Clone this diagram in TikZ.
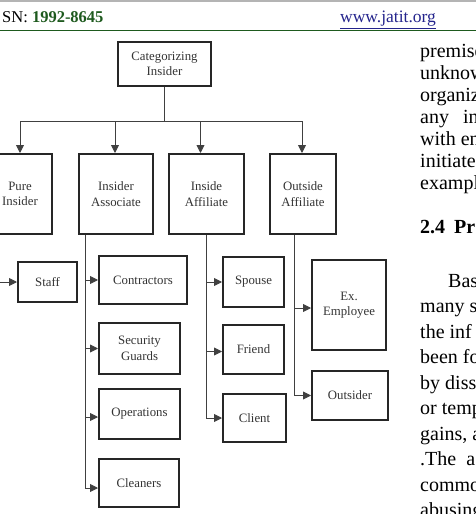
\documentclass[tikz,border=0pt]{standalone}
\usepackage{fontspec}
\setmainfont{Liberation Serif}
\usepackage{xcolor}
\usetikzlibrary{arrows.meta}
\definecolor{hdrgreen}{HTML}{1E5A1E}
\definecolor{hdrblue}{HTML}{24248C}
\definecolor{rulegray}{HTML}{B4B4B4}

\begin{document}
\begin{tikzpicture}[
        x=1pt, y=-1pt,
        >=Triangle,
        box/.style={
            draw=black!85,
            line width=2pt,
            align=center,
            inner sep=1pt,
            text=black!80,
            font=\fontsize{12.8}{15.5}\selectfont
        },
        flow/.style={-{Triangle[length=8pt,width=8pt]}, line width=0.9pt, draw=black!75},
        trunk/.style={line width=0.9pt, draw=black!75},
        body/.style={anchor=base west, inner sep=0pt, font=\fontsize{20}{25}\selectfont}
    ]
        \useasboundingbox (0,0) rectangle (476,514);
        \clip (0,0) rectangle (476,514);

        % page header
        \draw[rulegray, line width=2pt] (0,0.5) -- (476,0.5);
        \node[anchor=base west, inner sep=0pt, font=\fontsize{16.5}{18}\selectfont] (issn) at (2,23)
            {SN: \textbf{\color{hdrgreen}1992-8645}};
        \node[anchor=base west, inner sep=0pt, text=hdrblue, font=\fontsize{17.5}{18}\selectfont] (site) at (340,23)
            {\underline{www.jatit.org}};
        \draw[hdrgreen, line width=0.8pt] (0,30) -- (476,30);

        % tree
        \node[box, minimum width=93, minimum height=44] (root) at (164.5,64) {Categorizing\\Insider};

        \node[box, minimum width=64, minimum height=80] (pure) at (20,194) {Pure\\Insider};
        \node[box, minimum width=74, minimum height=80] (assoc) at (116,194) {Insider\\Associate};
        \node[box, minimum width=75, minimum height=80] (inaff) at (206.5,194) {Inside\\Affiliate};
        \node[box, minimum width=66, minimum height=80] (outaff) at (303,194) {Outside\\Affiliate};

        \node[box, minimum width=59, minimum height=40] (staff) at (47.5,282) {Staff};

        \node[box, minimum width=88, minimum height=48] (contr) at (143,280) {Contractors};
        \node[box, minimum width=81, minimum height=51] (secur) at (139.5,348.5) {Security\\Guards};
        \node[box, minimum width=81, minimum height=50] (oper) at (139.5,414) {Operations};
        \node[box, minimum width=80, minimum height=48] (clean) at (139,483) {Cleaners};

        \node[box, minimum width=61, minimum height=50] (spouse) at (253.5,282) {Spouse};
        \node[box, minimum width=61, minimum height=49] (friend) at (253.5,349.5) {Friend};
        \node[box, minimum width=63, minimum height=48] (client) at (254.5,418) {Client};

        \node[box, minimum width=74, minimum height=90] (exemp) at (349,305) {Ex.\\Employee};
        \node[box, minimum width=76, minimum height=49] (outsd) at (350,395.5) {Outsider};

        \coordinate (tp) at (-5,0);
        \coordinate (ta) at (85,0);
        \coordinate (ti) at (206,0);
        \coordinate (to) at (294,0);

        \draw[trunk] (root.south) -- ++(0,34) coordinate (bus);
        \draw[flow] (bus) -| (pure.north);
        \draw[flow] (bus) -| ([xshift=-1pt]assoc.north);
        \draw[flow] (bus) -| ([xshift=-6pt]inaff.north);
        \draw[flow] (bus) -| ([xshift=-1pt]outaff.north);

        \draw[flow] (pure.south -| tp) |- (staff.west);
        \draw[flow] (assoc.south -| ta) |- (contr.west);
        \draw[flow] (assoc.south -| ta) |- (secur.west);
        \draw[flow] (assoc.south -| ta) |- ([yshift=-3pt]oper.west);
        \draw[flow] (assoc.south -| ta) |- ([yshift=-5pt]clean.west);
        \draw[flow] (inaff.south -| ti) |- (spouse.west);
        \draw[flow] (inaff.south -| ti) |- ([yshift=-2pt]friend.west);
        \draw[flow] (inaff.south -| ti) |- (client.west);
        \draw[flow] (outaff.south -| to) |- ([yshift=-3pt]exemp.west);
        \draw[flow] (outaff.south -| to) |- (outsd.west);

        % running text of the page
        \node[body] (t1) at (420,57) {premise};
        \node[body] (t2) at (420,79) {unknow};
        \node[body] (t3) at (420,101) {organiz};
        \node[body] (t4) at (420,123) {any\hskip 14pt in};
        \node[body] (t5) at (420,145) {with en};
        \node[body] (t6) at (420,167) {initiate};
        \node[body] (t7) at (420,189) {exampl};
        \node[body, font=\fontsize{20}{25}\selectfont\bfseries] (t8) at (420,233) {2.4\hskip 9pt Pr};
        \node[body] (t9) at (448,287) {Bas};
        \node[body] (t10) at (420,312.5) {many s};
        \node[body] (t11) at (420,338) {the inf};
        \node[body] (t12) at (420,363.5) {been fo};
        \node[body] (t13) at (420,389) {by diss};
        \node[body] (t14) at (420,414.5) {or temp};
        \node[body] (t15) at (420,440) {gains, a};
        \node[body] (t16) at (420,465.5) {.The\hskip 10pt a};
        \node[body] (t17) at (420,491) {commo};
        \node[body] (t18) at (420,516.5) {abusing};
    \end{tikzpicture}
\end{document}
